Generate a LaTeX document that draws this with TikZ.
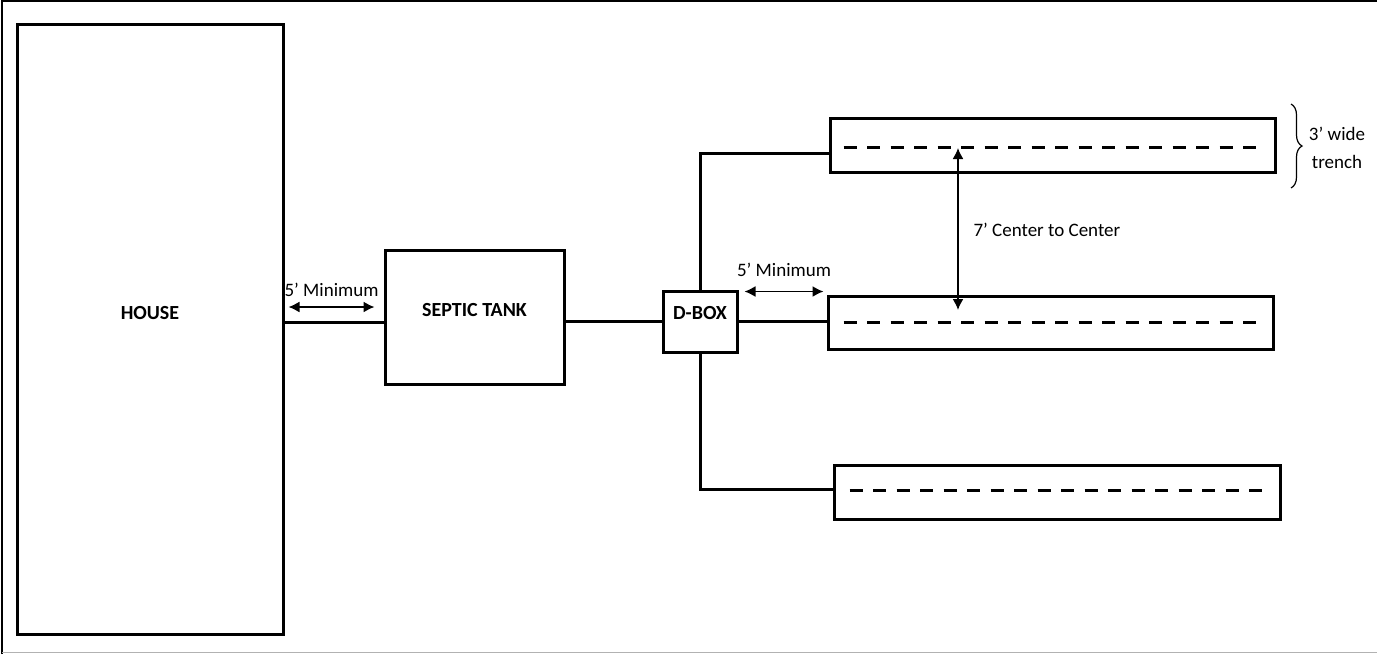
\documentclass[tikz,border=0pt]{standalone}
\usepackage{fontspec}
\setmainfont{Carlito}
\usetikzlibrary{arrows.meta,decorations.pathreplacing}
\begin{document}
\begin{tikzpicture}[x=1pt, y=-1pt, font=\fontsize{19}{23}\selectfont,
  box/.style={draw, line width=3pt, inner sep=0pt},
  pipe/.style={line width=3pt},
  trenchline/.style={line width=3pt, dash pattern=on 13pt off 10.5pt},
  dimarrow/.style={line width=1.6pt, >={Latex[length=11pt,width=11pt]}, <->},
  boxtext/.style={font=\fontsize{20}{24}\selectfont\bfseries}]
\useasboundingbox (0,0) rectangle (1377,654);
% frame
\draw[line width=2pt] (2,654) -- (2,1) -- (1377,1);
\draw[line width=1.5pt, gray!60] (2,652.5) -- (1377,652.5);

% house, tank and distribution box
\node[box, minimum width=266pt, minimum height=610pt] (house) at (150,329) {};
\node[boxtext] (houselbl) at ([yshift=16pt]house.center) {HOUSE};
\node[box, minimum width=179pt, minimum height=134pt] (tank) at (474.5,317) {};
\node[boxtext] (tanklbl) at ([yshift=7pt]tank.center) {SEPTIC TANK};
\node[box, minimum width=74pt, minimum height=61pt] (dbox) at (700,321.5) {};
\node[boxtext] (dboxlbl) at ([yshift=8pt]dbox.center) {D-BOX};

% trenches
\node[box, minimum width=445pt, minimum height=54pt] (trenchA) at (1052.5,145) {};
\node[box, minimum width=445pt, minimum height=53pt] (trenchB) at (1050.5,322.5) {};
\node[box, minimum width=446pt, minimum height=54pt] (trenchC) at (1057,492) {};
\draw[trenchline] ([shift={(15pt,-2pt)}]trenchA.west) -- ([shift={(-17pt,-2pt)}]trenchA.east);
\draw[trenchline] ([shift={(17pt,0pt)}]trenchB.west) -- ([shift={(-15pt,0pt)}]trenchB.east);
\draw[trenchline] ([shift={(17pt,2pt)}]trenchC.west) -- ([shift={(-15pt,2pt)}]trenchC.east);

% pipes
\draw[pipe] ([yshift=-5pt]tank.west) -- ([yshift=-5pt]tank.west -| house.east);
\draw[pipe] (dbox.west -| tank.east) -- (dbox.west);
\draw[pipe] (dbox.east) -- (dbox.east -| trenchB.west);
\draw[pipe] (dbox.north) |- ([yshift=-8pt]trenchA.west);
\draw[pipe] (dbox.south) |- ([yshift=3pt]trenchC.west);

% distances
\draw[dimarrow] ([shift={(4pt,22pt)}]house.east) -- ([shift={(-9pt,10pt)}]tank.west)
  node[midway, above=6pt] (minA) {5’ Minimum};
\draw[dimarrow] ([shift={(6pt,-2pt)}]dbox.north east) -- ([shift={(-3pt,3pt)}]trenchB.north west)
  node[midway, above=11pt] (minB) {5’ Minimum};
\coordinate (ctop) at (958,148);
\coordinate (cbot) at (958,310);
\draw[dimarrow] (ctop) -- (cbot);
\node[anchor=west] (ctoc) at (970,230) {7’ Center to Center};

% trench width
\draw[line width=1.2pt, decorate, decoration={brace, amplitude=11pt}] (1291,104) -- (1291,188);
\node[align=center, font=\fontsize{19}{28}\selectfont] (width) at (1337,148) {3’ wide\\trench};
\end{tikzpicture}
\end{document}
